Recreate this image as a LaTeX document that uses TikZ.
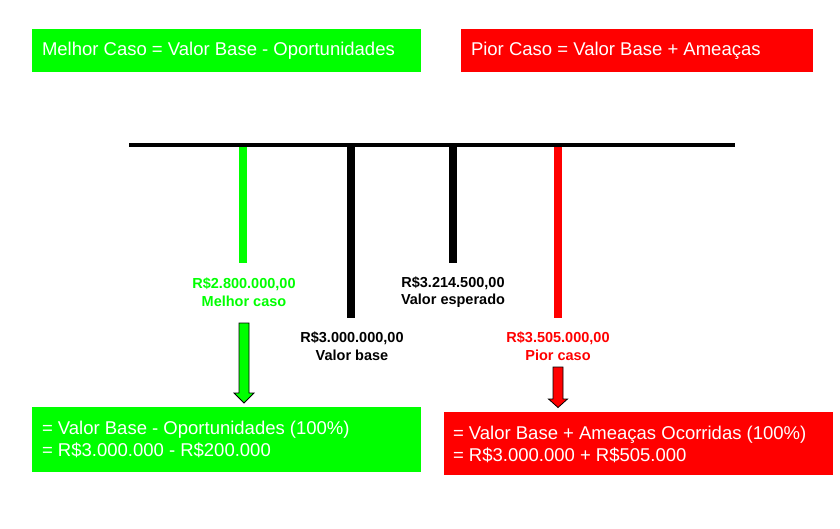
\documentclass[tikz,border=0pt]{standalone}
\usepackage{fontspec}
\setmainfont{Liberation Sans}
\begin{document}
\begin{tikzpicture}[x=1pt,y=-1pt,
  box/.style={anchor=north west,inner sep=0pt,outer sep=0pt,text=white,font=\fontsize{18.5}{22}\selectfont},
  lbl/.style={align=center,font=\bfseries\fontsize{14.5}{17.5}\selectfont,inner sep=0pt},
  tick/.style={line width=8pt},
  blockarrow/.style={draw=black,line width=0.8pt}]
\useasboundingbox (0,0) rectangle (840,528);
\definecolor{lgreen}{RGB}{0,255,0}
\definecolor{lred}{RGB}{255,0,0}

% formula headers
\fill[lgreen] (32,29) rectangle (421,72);
\node[box,anchor=west] (hbest) at (42,50.5) {Melhor Caso = Valor Base - Oportunidades};
\fill[lred] (461,29) rectangle (813,72);
\node[box,anchor=west] (hworst) at (471,50.5) {Pior Caso = Valor Base + Ameaças};

% timeline axis
\coordinate (axL) at (129,145);
\coordinate (axR) at (735,145);
\draw[line width=4pt] (axL) -- (axR);

% ticks
\coordinate (t1) at (243,147); \coordinate (t1e) at (243,263);
\coordinate (t2) at (351,147); \coordinate (t2e) at (351,318);
\coordinate (t3) at (453,147); \coordinate (t3e) at (453,263);
\coordinate (t4) at (558,147); \coordinate (t4e) at (558,318);
\draw[tick,lgreen] (t1) -- (t1e);
\draw[tick,black] (t2) -- (t2e);
\draw[tick,black] (t3) -- (t3e);
\draw[tick,lred] (t4) -- (t4e);

% value labels
\node[lbl,text=lgreen] (lbest) at (244,292) {R\$2.800.000,00\\Melhor caso};
\node[lbl] (lbase) at (352,346) {R\$3.000.000,00\\Valor base};
\node[lbl] (lexp) at (453,292) {R\$3.214.500,00\\Valor esperado};
\node[lbl,text=lred] (lworst) at (558,346) {R\$3.505.000,00\\Pior caso};

% block arrows
\filldraw[blockarrow,fill=lgreen] (239,323) -- (249,323) -- (249,393) -- (254,393)
  -- (244,403) -- (234,393) -- (239,393) -- cycle;
\filldraw[blockarrow,fill=lred] (553,367) -- (563,367) -- (563,399) -- (567.5,399)
  -- (558,407.5) -- (548.5,399) -- (553,399) -- cycle;

% result boxes
\fill[lgreen] (32,407) rectangle (421,472);
\node[box,anchor=west,align=left] (rbest) at (42,439)
  {= Valor Base - Oportunidades (100\%)\\= R\$3.000.000 - R\$200.000};
\fill[lred] (444,412) rectangle (833,475);
\node[box,anchor=west,align=left] (rworst) at (453,444)
  {= Valor Base + Ameaças Ocorridas (100\%)\\= R\$3.000.000 + R\$505.000};
\end{tikzpicture}
\end{document}
